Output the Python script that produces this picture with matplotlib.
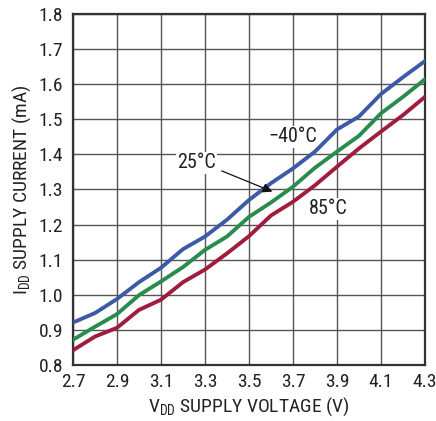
import matplotlib
matplotlib.use("Agg")
import matplotlib.pyplot as plt
from matplotlib import font_manager

names = {f.name for f in font_manager.fontManager.ttflist}
fam = "Liberation Sans Narrow" if "Liberation Sans Narrow" in names else "Roboto Condensed" if "Roboto Condensed" in names else "Liberation Sans"
plt.rcParams['font.family'] = [fam, 'DejaVu Sans']
plt.rcParams['mathtext.fontset'] = 'custom'
plt.rcParams['mathtext.rm'] = fam
plt.rcParams['mathtext.it'] = fam

vdd = [2.7, 2.8, 2.9, 3.0, 3.1, 3.2, 3.3, 3.4, 3.5, 3.6, 3.7, 3.8, 3.9, 4.0, 4.1, 4.2, 4.3]
i_m40 = [0.921, 0.948, 0.988, 1.036, 1.077, 1.130, 1.166, 1.214, 1.270, 1.318, 1.360, 1.408, 1.471, 1.508, 1.572, 1.620, 1.666]
i_25 = [0.872, 0.909, 0.945, 0.999, 1.038, 1.079, 1.128, 1.166, 1.222, 1.263, 1.308, 1.362, 1.408, 1.453, 1.517, 1.564, 1.614]
i_85 = [0.842, 0.881, 0.906, 0.957, 0.986, 1.036, 1.072, 1.118, 1.167, 1.226, 1.265, 1.312, 1.365, 1.417, 1.465, 1.512, 1.564]

xticks = [2.7, 2.9, 3.1, 3.3, 3.5, 3.7, 3.9, 4.1, 4.3]
yticks = [0.8, 0.9, 1.0, 1.1, 1.2, 1.3, 1.4, 1.5, 1.6, 1.7, 1.8]

fig = plt.figure(figsize=(4.36, 4.21), dpi=100)
ax = fig.add_axes([73/436, 56/421, 352/436, 351/421])

ax.plot(vdd, i_85, color='#a01c3c', lw=2.8, solid_joinstyle='round', zorder=3)
ax.plot(vdd, i_25, color='#2a8c4c', lw=2.8, solid_joinstyle='round', zorder=3)
ax.plot(vdd, i_m40, color='#3d5aa8', lw=2.8, solid_joinstyle='round', zorder=3)

ax.set_xlim(2.7, 4.3)
ax.set_ylim(0.8, 1.8)
ax.set_xticks(xticks)
ax.set_xticklabels([f"{v:.1f}" for v in xticks])
ax.set_yticks(yticks)
ax.set_yticklabels([f"{v:.1f}" for v in yticks])
ax.grid(True, color='#555555', lw=1.0)
ax.set_axisbelow(True)
for s in ax.spines.values():
    s.set_color('#333333')
    s.set_linewidth(1.6)
ax.tick_params(length=0, labelsize=14, colors='#222222', pad=6)
ax.tick_params(axis='y', pad=7)

ax.set_xlabel(r"V$_{\mathrm{DD}}$ SUPPLY VOLTAGE (V)", fontsize=14, color='#222222', labelpad=3)
ax.set_ylabel(r"I$_{\mathrm{DD}}$ SUPPLY CURRENT (mA)", fontsize=14, color='#222222', labelpad=4)

ax.text(3.700, 1.450, "\u221240\u00b0C", fontsize=14.5, ha='center', va='center', color='#222222',
        bbox=dict(facecolor='white', edgecolor='none', pad=1.0), zorder=2.5)
ax.text(3.859, 1.245, "85\u00b0C", fontsize=14.5, ha='center', va='center', color='#222222',
        bbox=dict(facecolor='white', edgecolor='none', pad=1.0), zorder=2.5)
ax.text(3.261, 1.376, "25\u00b0C", fontsize=14.5, ha='center', va='center', color='#222222',
        bbox=dict(facecolor='white', edgecolor='none', pad=1.0), zorder=2.5)
ax.annotate("", xy=(3.618, 1.291), xytext=(3.364, 1.356),
            arrowprops=dict(arrowstyle='-|>', color='#111111', lw=0.9, mutation_scale=14), zorder=5)

fig.savefig("out.png", dpi=100)
